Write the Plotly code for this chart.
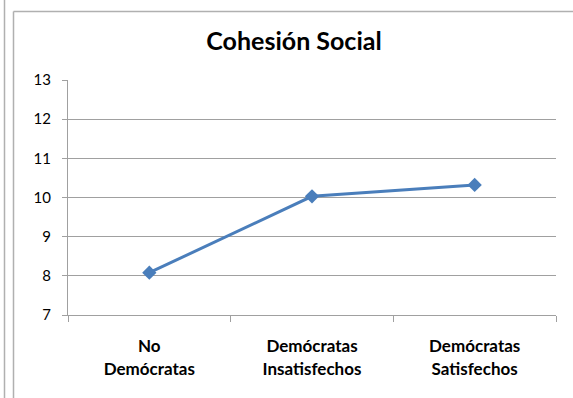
import plotly.graph_objects as go

categories = ["No<br>Demócratas", "Demócratas<br>Insatisfechos", "Demócratas<br>Satisfechos"]
cohesion = [8.08, 10.03, 10.32]
y_ticks = [7, 8, 9, 10, 11, 12, 13]

W, H = 573, 398
L, R, T, B = 68, 17, 80, 83

def px(x):
    return (x - L) / (W - L - R)

def py(y):
    return (H - B - y) / (H - T - B)

fig = go.Figure(
    go.Scatter(
        x=categories,
        y=cohesion,
        mode="lines+markers",
        line=dict(color="#4A7EBB", width=3),
        marker=dict(symbol="diamond", size=11, color="#4A7EBB"),
        showlegend=False,
        cliponaxis=False,
    )
)

grey = "#A0A0A0"
font_family = "Lato, Open Sans, sans-serif"
fig.update_layout(
    width=W,
    height=H,
    margin=dict(l=L, r=R, t=T, b=B),
    paper_bgcolor="white",
    plot_bgcolor="white",
    title=dict(
        text="<b>Cohesión Social</b>",
        x=294 / W,
        xanchor="center",
        y=1 - 41 / H,
        yanchor="middle",
        font=dict(family=font_family, size=25, color="black"),
    ),
    xaxis=dict(
        type="category",
        showgrid=False,
        showline=True,
        linecolor=grey,
        linewidth=1,
        ticks="outside",
        tickson="boundaries",
        ticklen=6,
        tickcolor=grey,
        tickfont=dict(family=font_family, size=17, color="black", weight="bold"),
        ticklabelstandoff=16,
        range=[-0.5, 2.5],
    ),
    yaxis=dict(
        range=[7, 13],
        tickvals=y_ticks,
        showgrid=True,
        gridcolor=grey,
        gridwidth=1,
        showline=True,
        linecolor=grey,
        linewidth=1,
        ticks="outside",
        ticklen=5,
        tickcolor=grey,
        zeroline=False,
        tickfont=dict(family=font_family, size=15, color="black"),
        ticklabelstandoff=8,
    ),
    shapes=[
        dict(type="line", xref="paper", yref="paper", x0=px(4.5), x1=px(4.5), y0=py(0), y1=py(H),
             line=dict(color="#B0B0B0", width=1.5)),
        dict(type="line", xref="paper", yref="paper", x0=px(13.5), x1=px(13.5), y0=py(11.5), y1=py(H),
             line=dict(color="#B0B0B0", width=1.5)),
        dict(type="line", xref="paper", yref="paper", x0=px(13.5), x1=px(W), y0=py(11.5), y1=py(11.5),
             line=dict(color="#B0B0B0", width=1.5)),
    ],
)

fig.write_html("out.html")
